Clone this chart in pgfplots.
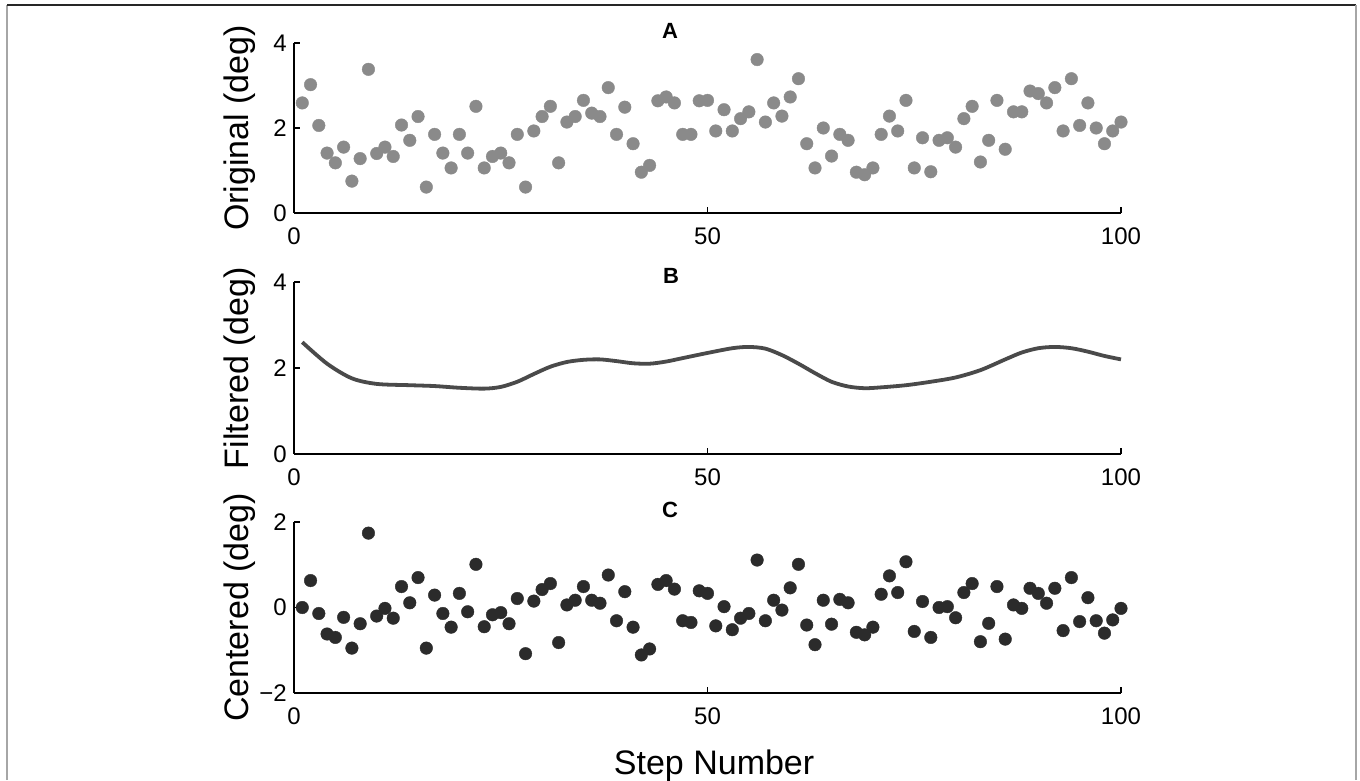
\documentclass[border=0pt]{standalone}
\usepackage{pgfplots}
\pgfplotsset{compat=1.18}
\usepackage{fontspec}
\setmainfont{Liberation Sans}
\definecolor{ptA}{HTML}{8A8A8A}
\definecolor{ptC}{HTML}{2B2B2B}
\definecolor{lnB}{HTML}{4A4A4A}

\pgfplotsset{
  panel/.style={
    scale only axis, width=827pt, height=171pt,
    xmin=0, xmax=100, xtick={0,50,100},
    axis x line*=bottom, axis y line*=left,
    axis line style={line width=1.5pt, black},
    tick align=inside, major tick length=6pt,
    every tick/.style={line width=1.5pt, black},
    tick label style={font=\fontsize{24}{28}\selectfont},
    /pgf/number format/assume math mode=true,
    xticklabel style={inner sep=0pt, yshift=-15pt},
    yticklabel style={inner sep=0pt, xshift=-7pt},
    ylabel style={font=\fontsize{34}{40}\selectfont, at={(axis description cs:-0.066,0.5)}, anchor=center, rotate=0},
    clip=false, anchor=south west,
  },
}

\begin{document}
\begin{tikzpicture}
\useasboundingbox (0,0) rectangle (1360pt,780pt);
\draw[gray!70, line width=1.5pt] (7pt,0pt) -- (7pt,775pt);
\draw[black!85, line width=1.5pt] (7pt,775pt) -- (1356pt,775pt);
\draw[gray!70, line width=1.5pt] (1356pt,0pt) -- (1356pt,775pt);

% Panel A
\begin{axis}[panel, at={(294pt,567pt)}, height=170pt, ymin=0, ymax=4, ytick={0,2,4},
  ylabel={Original (deg)}]
\addplot[only marks, mark=*, mark size=6.3pt, color=ptA] coordinates {
(1,2.59)(2,3.02)(3,2.06)(4,1.41)(5,1.18)(6,1.55)(7,0.75)(8,1.28)(9,3.38)(10,1.40)
(11,1.55)(12,1.33)(13,2.07)(14,1.71)(15,2.27)(16,0.61)(17,1.85)(18,1.41)(19,1.06)(20,1.85)
(21,1.41)(22,2.51)(23,1.06)(24,1.33)(25,1.41)(26,1.18)(27,1.85)(28,0.61)(29,1.93)(30,2.27)
(31,2.51)(32,1.18)(33,2.14)(34,2.27)(35,2.65)(36,2.35)(37,2.27)(38,2.95)(39,1.85)(40,2.49)
(41,1.63)(42,0.96)(43,1.12)(44,2.64)(45,2.73)(46,2.59)(47,1.85)(48,1.85)(49,2.64)(50,2.65)
(51,1.93)(52,2.43)(53,1.93)(54,2.22)(55,2.38)(56,3.61)(57,2.14)(58,2.59)(59,2.28)(60,2.73)
(61,3.16)(62,1.63)(63,1.06)(64,2.00)(65,1.34)(66,1.85)(67,1.71)(68,0.96)(69,0.90)(70,1.06)
(71,1.85)(72,2.28)(73,1.93)(74,2.65)(75,1.06)(76,1.77)(77,0.97)(78,1.71)(79,1.77)(80,1.55)
(81,2.22)(82,2.51)(83,1.20)(84,1.71)(85,2.65)(86,1.50)(87,2.38)(88,2.38)(89,2.87)(90,2.81)
(91,2.59)(92,2.95)(93,1.93)(94,3.16)(95,2.06)(96,2.59)(97,2.00)(98,1.63)(99,1.93)(100,2.14)
};
\end{axis}
\node[font=\fontsize{22}{26}\selectfont\bfseries] at (670pt,749.5pt) {A};

% Panel B
\begin{axis}[panel, at={(294pt,326pt)}, height=172pt, ymin=0, ymax=4, ytick={0,2,4},
  ylabel={Filtered (deg)}]
\addplot[smooth, line width=3.8pt, color=lnB] coordinates {
(1,2.60)(4,2.10)(7,1.76)(10,1.63)(14,1.60)(17,1.58)(20,1.54)(23,1.52)
(25,1.56)(27,1.68)(29,1.86)(31,2.03)(33,2.14)(35,2.19)(37,2.20)(39,2.16)(41,2.11)(43,2.10)
(45,2.15)(47,2.23)(50,2.35)(53,2.46)(55,2.49)(57,2.45)(59,2.30)(61,2.10)(63,1.88)(65,1.68)
(67,1.57)(69,1.53)(71,1.55)(74,1.60)(77,1.68)(80,1.78)(83,1.95)(86,2.20)(88,2.36)(90,2.46)
(92,2.49)(94,2.46)(96,2.38)(98,2.28)(100,2.20)
};
\end{axis}
\node[font=\fontsize{22}{26}\selectfont\bfseries] at (671pt,504pt) {B};

% Panel C
\begin{axis}[panel, at={(294pt,87pt)}, height=171pt, ymin=-2, ymax=2, ytick={-2,0,2},
  yticklabels={−2,0,2},
  ylabel={Centered (deg)},
  xlabel={Step Number},
  xlabel style={font=\fontsize{34}{40}\selectfont, at={(axis description cs:0.508,-0.474)}, anchor=base}]
\addplot[only marks, mark=*, mark size=6.3pt, color=ptC] coordinates {
(1,0.00)(2,0.63)(3,-0.14)(4,-0.62)(5,-0.70)(6,-0.23)(7,-0.95)(8,-0.38)(9,1.74)(10,-0.20)
(11,-0.02)(12,-0.25)(13,0.49)(14,0.11)(15,0.70)(16,-0.95)(17,0.29)(18,-0.14)(19,-0.46)(20,0.33)
(21,-0.10)(22,1.01)(23,-0.45)(24,-0.17)(25,-0.12)(26,-0.38)(27,0.21)(28,-1.08)(29,0.15)(30,0.42)
(31,0.56)(32,-0.82)(33,0.06)(34,0.17)(35,0.49)(36,0.17)(37,0.10)(38,0.76)(39,-0.31)(40,0.37)
(41,-0.46)(42,-1.11)(43,-0.97)(44,0.54)(45,0.63)(46,0.43)(47,-0.31)(48,-0.35)(49,0.39)(50,0.33)
(51,-0.43)(52,0.02)(53,-0.52)(54,-0.25)(55,-0.14)(56,1.11)(57,-0.31)(58,0.17)(59,-0.06)(60,0.46)
(61,1.01)(62,-0.41)(63,-0.87)(64,0.17)(65,-0.39)(66,0.19)(67,0.11)(68,-0.58)(69,-0.64)(70,-0.46)
(71,0.31)(72,0.74)(73,0.35)(74,1.07)(75,-0.56)(76,0.14)(77,-0.70)(78,0.00)(79,0.02)(80,-0.24)
(81,0.35)(82,0.56)(83,-0.80)(84,-0.37)(85,0.49)(86,-0.74)(87,0.06)(88,-0.02)(89,0.45)(90,0.33)
(91,0.10)(92,0.45)(93,-0.54)(94,0.70)(95,-0.33)(96,0.23)(97,-0.31)(98,-0.60)(99,-0.29)(100,-0.02)
};
\end{axis}
\node[font=\fontsize{22}{26}\selectfont\bfseries] at (670pt,270pt) {C};
\end{tikzpicture}
\end{document}
